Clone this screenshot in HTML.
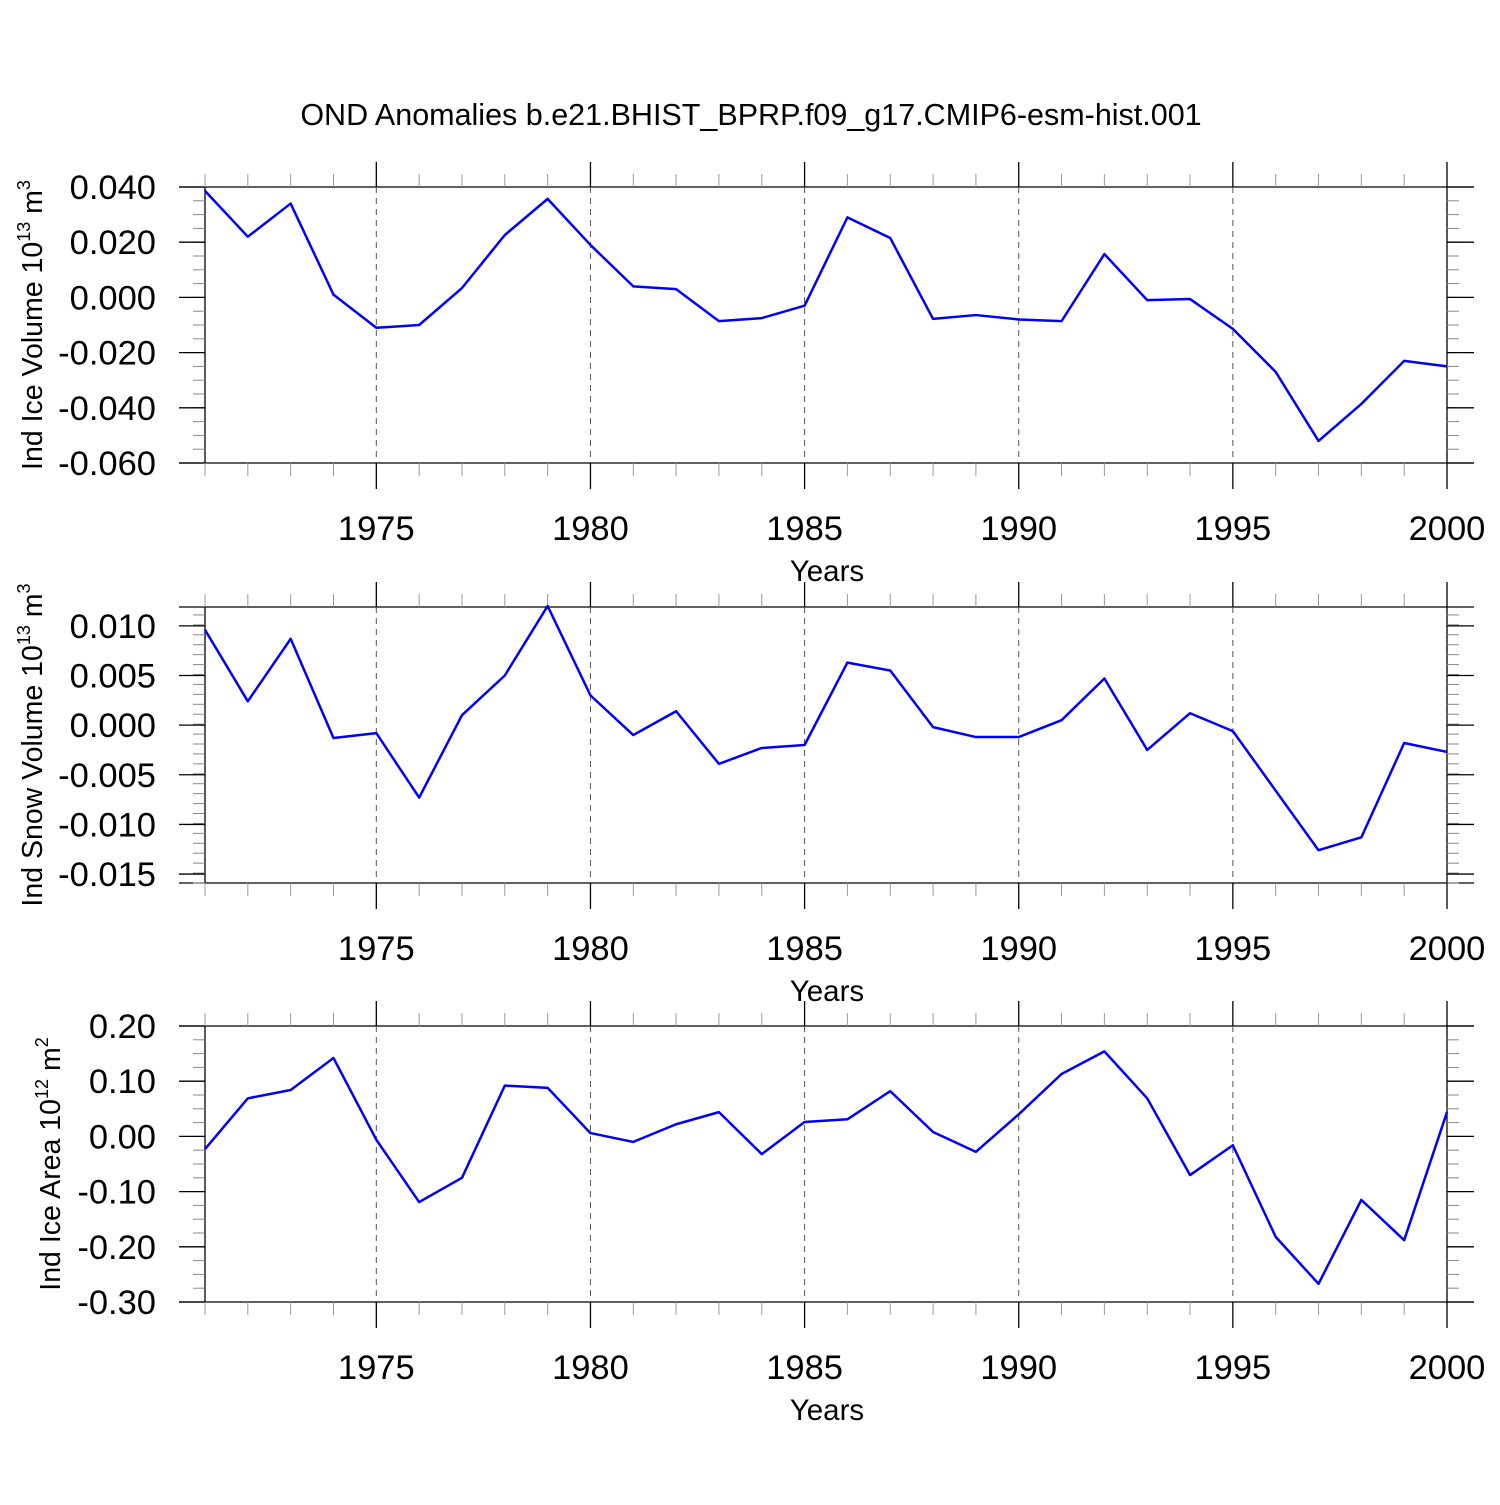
<!DOCTYPE html>
<html><head><meta charset="utf-8"><style>
body{margin:0;background:#fff}
svg text{font-family:"Liberation Sans",Arial,sans-serif;fill:#000}
</style></head><body>
<svg id="chart" width="1500" height="1500" xmlns="http://www.w3.org/2000/svg">
<text x="751" y="125" font-size="30.5" text-anchor="middle">OND Anomalies b.e21.BHIST_BPRP.f09_g17.CMIP6-esm-hist.001</text>
</svg>
<script>
const years = [1971,1972,1973,1974,1975,1976,1977,1978,1979,1980,1981,1982,1983,1984,1985,1986,1987,1988,1989,1990,1991,1992,1993,1994,1995,1996,1997,1998,1999,2000];
const iceVolume = [0.0386,0.022,0.034,0.001,-0.011,-0.010,0.0034,0.0226,0.0357,0.019,0.004,0.003,-0.0086,-0.0075,-0.003,0.029,0.0215,-0.0078,-0.0064,-0.008,-0.0086,0.0157,-0.001,-0.0006,-0.0114,-0.027,-0.052,-0.0386,-0.023,-0.025];
const snowVolume = [0.0096,0.0024,0.0087,-0.0013,-0.0008,-0.0073,0.001,0.005,0.012,0.003,-0.001,0.0014,-0.0039,-0.0023,-0.002,0.0063,0.0055,-0.0002,-0.0012,-0.0012,0.0005,0.0047,-0.0025,0.0012,-0.0006,-0.0066,-0.0126,-0.0113,-0.0018,-0.0027];
const iceArea = [-0.023,0.069,0.084,0.142,-0.006,-0.119,-0.075,0.092,0.088,0.006,-0.010,0.022,0.044,-0.032,0.026,0.031,0.082,0.008,-0.028,0.040,0.113,0.154,0.069,-0.070,-0.016,-0.182,-0.267,-0.115,-0.188,0.044];
const xTickLabels = [1975,1980,1985,1990,1995,2000];
const yTicks1 = [0.04,0.02,0,-0.02,-0.04,-0.06];
const yTickLabels1 = ["0.040","0.020","0.000","-0.020","-0.040","-0.060"];
const yTicks2 = [0.01,0.005,0,-0.005,-0.01,-0.015];
const yTickLabels2 = ["0.010","0.005","0.000","-0.005","-0.010","-0.015"];
const yTicks3 = [0.2,0.1,0,-0.1,-0.2,-0.3];
const yTickLabels3 = ["0.20","0.10","0.00","-0.10","-0.20","-0.30"];

const svg = document.getElementById('chart');
const NS = 'http://www.w3.org/2000/svg';
function mk(tag, attrs, parent){const e=document.createElementNS(NS,tag);for(const k in attrs)e.setAttribute(k,attrs[k]);(parent||svg).appendChild(e);return e;}
const X0=205,X1=1447,L=179,R=1474;
const xs = y => X0 + (y-1971)*(X1-X0)/29;

function panel(id, top, bot, vmax, vmin, ticks, labels, minorStep, data, ylabel, exp, unit, ylx){
  const g = mk('g',{});
  
  
  const ys = v => top + (vmax-v)*(bot-top)/(vmax-vmin);
  mk('line',{x1:L,y1:top,x2:R,y2:top,stroke:'#000','stroke-width':1.3},g);
  mk('line',{x1:L,y1:bot,x2:R,y2:bot,stroke:'#000','stroke-width':1.3},g);
  mk('line',{x1:X0,y1:top,x2:X0,y2:bot,stroke:'#000','stroke-width':1.3},g);
  mk('line',{x1:X1,y1:top,x2:X1,y2:bot,stroke:'#000','stroke-width':1.3},g);
  for(let v=vmin; v<=vmax+1e-9; v+=minorStep){
    const y=ys(v); if(y<top-0.5||y>bot+0.5) continue;
    mk('line',{x1:X0-12,y1:y,x2:X0,y2:y,stroke:'#888','stroke-width':1},g);
    mk('line',{x1:X1,y1:y,x2:X1+12,y2:y,stroke:'#888','stroke-width':1},g);
  }
  ticks.forEach((v,i)=>{
    const y=ys(v);
    mk('line',{x1:L,y1:y,x2:X0,y2:y,stroke:'#000','stroke-width':1.3},g);
    mk('line',{x1:X1,y1:y,x2:R,y2:y,stroke:'#000','stroke-width':1.3},g);
    const t=mk('text',{x:156,y:y+12,'font-size':34.5,'text-anchor':'end'},g);
    
    
    t.textContent=labels[i];
  });
  years.forEach(yr=>{
    const x=xs(yr), major=yr%5===0;
    mk('line',{x1:x,y1:top-(major?25:13),x2:x,y2:top,stroke:major?'#000':'#999','stroke-width':major?1.3:1},g);
    mk('line',{x1:x,y1:bot,x2:x,y2:bot+(major?26:13),stroke:major?'#000':'#999','stroke-width':major?1.3:1},g);
    if(major && yr<2000) mk('line',{x1:x,y1:top,x2:x,y2:bot,stroke:'#555','stroke-width':1,'stroke-dasharray':'6,5'},g);
  });
  xTickLabels.forEach(yr=>{
    const t=mk('text',{x:xs(yr),y:bot+77,'font-size':34.5,'text-anchor':'middle'},g);
    
    
    t.textContent=yr;
  });
  const xt=mk('text',{x:827,y:bot+118,'font-size':29.5,'text-anchor':'middle'},g);
  
  
  xt.textContent='Years';
  const cy=(top+bot)/2;
  const yt=mk('text',{x:0,y:0,'font-size':28.5,'text-anchor':'middle',transform:`translate(${ylx},${cy}) rotate(-90)`},g);
  
  
  yt.appendChild(document.createTextNode(ylabel+' 10'));
  const s=document.createElementNS(NS,'tspan');s.setAttribute('font-size','18');s.setAttribute('dy','-12');s.textContent=exp;yt.appendChild(s);
  const s2=document.createElementNS(NS,'tspan');s2.setAttribute('dy','12');s2.textContent=' m';yt.appendChild(s2);
  const s3=document.createElementNS(NS,'tspan');s3.setAttribute('font-size','18');s3.setAttribute('dy','-12');s3.textContent=unit;yt.appendChild(s3);
  const pts=data.map((v,i)=>xs(years[i])+','+ys(v)).join(' ');
  const pl=mk('polyline',{points:pts,fill:'none',stroke:'#0000ff','stroke-width':2.5,'stroke-linejoin':'round'},g);
  
  
}
panel('panel-ice-volume',187,463,0.04,-0.06,yTicks1,yTickLabels1,0.005,iceVolume,'Ind Ice Volume','13','3',42);
panel('panel-snow-volume',607,883,0.0119,-0.0159,yTicks2,yTickLabels2,0.001,snowVolume,'Ind Snow Volume','13','3',42);
panel('panel-ice-area',1026,1302,0.2,-0.3,yTicks3,yTickLabels3,0.025,iceArea,'Ind Ice Area','12','2',60);
</script>
</body></html>
